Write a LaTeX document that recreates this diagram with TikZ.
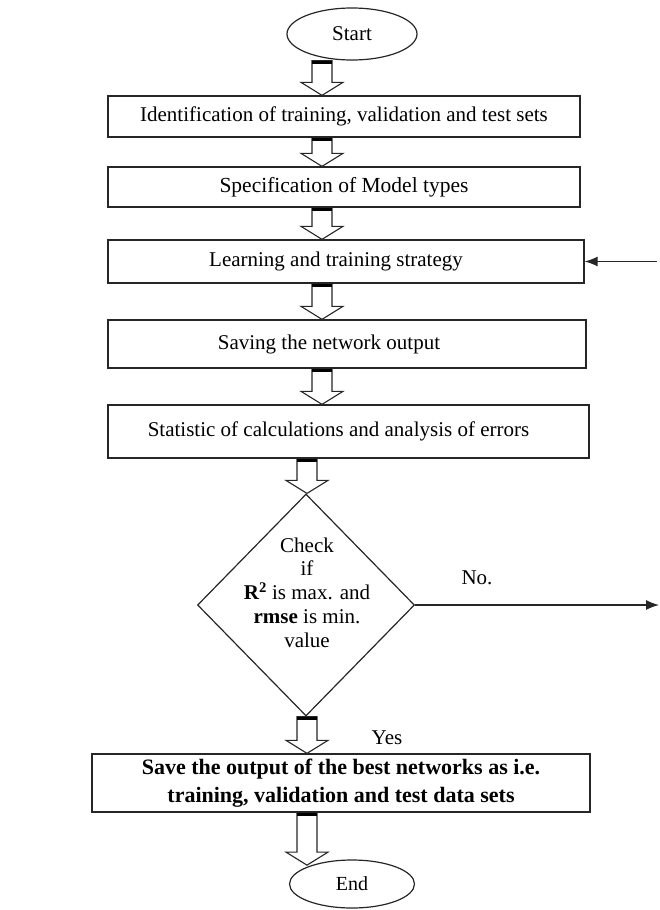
\documentclass[tikz,border=0pt]{standalone}
\usepackage{fontspec}
\setmainfont{Liberation Serif}
\usetikzlibrary{shapes.geometric,arrows.meta,calc}
\newcommand\blockarrow[3]{%
  \draw[barrowst] let \p1=(#2), \p2=(#3), \p3=(#1) in
    (\x3-10pt,\y1) -- (\x3-10pt,\y2+13pt) -- (\x3-21pt,\y2+13pt) -- (\x3,\y2)
    -- (\x3+21pt,\y2+13pt) -- (\x3+10pt,\y2+13pt) -- (\x3+10pt,\y1) -- cycle;
  \draw[barbar] let \p1=(#2), \p3=(#1) in
    (\x3-10pt,\y1-1.75pt) -- (\x3+10pt,\y1-1.75pt);
}
\begin{document}
\begin{tikzpicture}[x=1pt,y=-1pt,
  box/.style={draw=black!85, line width=1.3pt, rectangle, inner sep=0pt,
    font=\fontsize{21}{24}\selectfont},
  term/.style={draw=black!85, line width=1.2pt, ellipse, inner sep=0pt,
    font=\fontsize{21}{24}\selectfont},
  barrowst/.style={draw=black!85, line width=1.1pt, fill=white, line join=miter},
  barbar/.style={draw=black, line width=3.5pt},
  fbarrow/.style={draw=black!85, line width=1.2pt, -{Latex[length=13pt,width=10pt]}},
  lbl/.style={font=\fontsize{21}{24}\selectfont, inner sep=0pt}
]
\useasboundingbox (0,0) rectangle (660,910);

\node[term, minimum width=130pt, minimum height=52pt] (start) at (352,34) {Start};
\node[box, minimum width=472pt, minimum height=41pt] (b1) at (344,116.5)
  {Identification of training, validation and test sets};
\node[box, minimum width=472pt, minimum height=40pt, font=\fontsize{21.5}{24}\selectfont] (b2) at (344,187)
  {Specification of Model types};
\node[box, minimum width=476pt, minimum height=43pt] (b3) at (346,261.5)
  {Learning and training strategy\hspace*{20pt}};
\node[box, minimum width=478pt, minimum height=48pt] (b4) at (347,344)
  {Saving the network output\hspace*{36pt}};
\node[box, minimum width=481pt, minimum height=53pt] (b5) at (348.5,431.5)
  {Statistic of calculations and analysis of errors\hspace*{20pt}};
\node[draw=black!85, line width=1.2pt, diamond, minimum width=217pt,
  minimum height=222pt, inner sep=0pt] (dia) at (306,605) {};
\node[align=center, inner sep=0pt, font=\fontsize{21}{23.75}\selectfont] (dtext) at (307,592.5)
  {Check\\if\\\textbf{R\textsuperscript{2}} is max. and\\\textbf{rmse} is min.\\value};
\node[box, minimum width=498pt, minimum height=58pt, align=center,
  font=\bfseries\fontsize{22}{28}\selectfont] (b6) at (341,783)
  {Save the output of the best networks as i.e.\\training, validation and test data sets};
\node[term, minimum width=125pt, minimum height=48pt, font=\fontsize{20}{24}\selectfont]
  (end) at (352,884) {End};

\node[lbl] (no) at (477,578) {No.};
\node[lbl] (yes) at (387,738) {Yes};

\coordinate (xa) at (322,0);
\coordinate (xb) at (307,0);
\coordinate (fbstart) at (657,261.5);
\coordinate (noend) at (659,605);

\blockarrow{xa}{start.south}{b1.north}
\blockarrow{xa}{b1.south}{b2.north}
\blockarrow{xa}{b2.south}{b3.north}
\blockarrow{xa}{b3.south}{b4.north}
\blockarrow{xa}{b4.south}{b5.north}
\blockarrow{xb}{b5.south}{dia.north}
\blockarrow{xb}{dia.south}{b6.north}
\blockarrow{xb}{b6.south}{end.155}

\draw[fbarrow] (fbstart) -- (b3);
\draw[fbarrow] (dia) -- (noend);
\end{tikzpicture}
\end{document}
